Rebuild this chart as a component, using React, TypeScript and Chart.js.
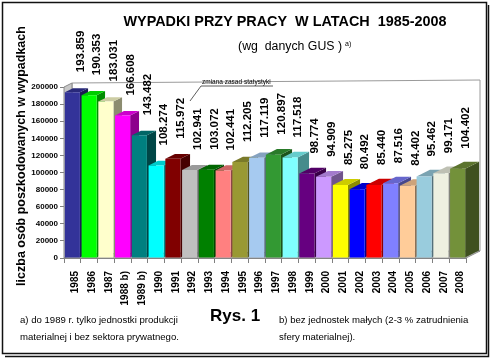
import React, { useEffect, useRef } from "react";
import { Chart, registerables } from "chart.js";

Chart.register(...registerables);

const years = ["1985", "1986", "1987", "1988 b)", "1989 b)", "1990", "1991", "1992", "1993", "1994", "1995", "1996", "1997", "1998", "1999", "2000", "2001", "2002", "2003", "2004", "2005", "2006", "2007", "2008"];
const injured = [193859, 190353, 183031, 166608, 143482, 108274, 115972, 102941, 103072, 102441, 112205, 117119, 120897, 117518, 98774, 94909, 85275, 80492, 85440, 87516, 84402, 95462, 99171, 104402];
const barColors = ["#333399", "#00FF00", "#FFFFCC", "#FF00FF", "#008080", "#00FFFF", "#800000", "#C0C0C0", "#008000", "#FF8080", "#999933", "#A6CAF0", "#339933", "#7FFFFF", "#660080", "#CC99FF", "#FFFF00", "#0000FF", "#FF0000", "#8080FF", "#FFCC99", "#99CCDD", "#EEF0E0", "#73913A"];
const yMin = 0;
const yMax = 200000;
const yStep = 20000;

const titleText = "WYPADKI PRZY PRACY  W LATACH  1985-2008";
const subtitleText = "(wg  danych GUS )";
const subtitleSup = "a)";
const yAxisTitle = "liczba osób poszkodowanych w wypadkach";
const noteA = ["a) do 1989 r. tylko jednostki produkcji", "materialnej i bez sektora prywatnego."];
const noteB = ["b) bez jednostek małych (2-3 % zatrudnienia", "sfery materialnej)."];
const figLabel = "Rys. 1";
const annotationText = "zmiana zasad statystyki";

const FONT = "'Liberation Sans', Arial, Helvetica, sans-serif";

function shade(hex: string, f: number): string {
  const n = parseInt(hex.slice(1), 16);
  const r = Math.round(((n >> 16) & 255) * f);
  const g = Math.round(((n >> 8) & 255) * f);
  const b = Math.round((n & 255) * f);
  return `rgb(${r},${g},${b})`;
}

function fmt(v: number): string {
  const th = Math.floor(v / 1000);
  const rest = String(v % 1000).padStart(3, "0");
  return `${th}.${rest}`;
}

function depth(x: number, a: any) {
  const f = (x - a.left) / (a.right - a.left);
  return { dx: 8 + 6 * f, dy: 4 + 3 * f };
}

function poly(ctx: CanvasRenderingContext2D, pts: number[][], fill: string, stroke?: string) {
  ctx.beginPath();
  ctx.moveTo(pts[0][0], pts[0][1]);
  for (let i = 1; i < pts.length; i++) ctx.lineTo(pts[i][0], pts[i][1]);
  ctx.closePath();
  ctx.fillStyle = fill;
  ctx.fill();
  if (stroke) {
    ctx.strokeStyle = stroke;
    ctx.lineWidth = 1;
    ctx.stroke();
  }
}

const decoPlugin = {
  id: "deco3d",
  beforeDatasetsDraw(chart: any) {
    const { ctx, chartArea: a } = chart;
    const L = depth(a.left, a);
    const R = depth(a.right, a);
    ctx.save();
    poly(ctx, [[a.left + L.dx, a.top - L.dy], [a.right + R.dx, a.top - R.dy], [a.right + R.dx, a.bottom - R.dy], [a.left + L.dx, a.bottom - L.dy]], "#ffffff", "#9a9a9a");
    poly(ctx, [[a.left, a.bottom], [a.left, a.top], [a.left + L.dx, a.top - L.dy], [a.left + L.dx, a.bottom - L.dy]], "#c8c8c8", "#8a8a8a");
    poly(ctx, [[a.left, a.bottom], [a.right, a.bottom], [a.right + R.dx, a.bottom - R.dy], [a.left + L.dx, a.bottom - L.dy]], "#c8c8c8", "#8a8a8a");
    const meta = chart.getDatasetMeta(0);
    meta.data.forEach((bar: any, i: number) => {
      const { x, y, base, width } = bar.getProps(["x", "y", "base", "width"], true);
      const x0 = x - width / 2;
      const x1 = x + width / 2;
      const d = depth(x, a);
      const c = barColors[i];
      poly(ctx, [[x1, base], [x1, y], [x1 + d.dx, y - d.dy], [x1 + d.dx, base - d.dy]], shade(c, 0.55));
      poly(ctx, [[x0, y], [x1, y], [x1 + d.dx, y - d.dy], [x0 + d.dx, y - d.dy]], shade(c, 0.8));
    });
    ctx.restore();
  },
  afterDatasetsDraw(chart: any) {
    const { ctx } = chart;
    const meta = chart.getDatasetMeta(0);
    ctx.save();
    ctx.fillStyle = "#000";
    ctx.font = `bold 11.5px ${FONT}`;
    ctx.textAlign = "left";
    ctx.textBaseline = "middle";
    meta.data.forEach((bar: any, i: number) => {
      const { x, y } = bar.getProps(["x", "y"], true);
      ctx.save();
      ctx.translate(x + 8, y - 20);
      ctx.rotate(-Math.PI / 2);
      ctx.fillText(fmt(injured[i]), 0, 0);
      ctx.restore();
    });
    ctx.restore();
  },
  afterDraw(chart: any) {
    const { ctx } = chart;
    ctx.save();
    ctx.fillStyle = "#000";
    ctx.font = `bold 14.4px ${FONT}`;
    ctx.textAlign = "center";
    ctx.textBaseline = "middle";
    ctx.fillText(titleText, 285, 22);
    ctx.font = `12.3px ${FONT}`;
    ctx.textAlign = "right";
    ctx.fillText(subtitleText, 342, 47);
    ctx.font = `7px ${FONT}`;
    ctx.textAlign = "left";
    ctx.fillText(subtitleSup, 345, 44);
    ctx.save();
    ctx.translate(22, 156);
    ctx.rotate(-Math.PI / 2);
    ctx.textAlign = "center";
    ctx.font = `bold 12.5px ${FONT}`;
    ctx.fillText(yAxisTitle, 0, 0);
    ctx.restore();
    ctx.font = `6.5px ${FONT}`;
    ctx.textAlign = "left";
    ctx.textBaseline = "alphabetic";
    ctx.fillText(annotationText, 202, 84, 71);
    ctx.strokeStyle = "#333";
    ctx.lineWidth = 0.8;
    ctx.beginPath();
    ctx.moveTo(273, 86);
    ctx.lineTo(201, 86);
    ctx.lineTo(190, 101);
    ctx.stroke();
    ctx.font = `9.6px ${FONT}`;
    ctx.textBaseline = "middle";
    ctx.fillText(noteA[0], 20, 320);
    ctx.fillText(noteA[1], 20, 337);
    ctx.fillText(noteB[0], 279, 320);
    ctx.fillText(noteB[1], 279, 337);
    ctx.font = `bold 17px ${FONT}`;
    ctx.fillText(figLabel, 210, 316);
    ctx.strokeStyle = "#111";
    ctx.lineWidth = 1.5;
    ctx.strokeRect(2.5, 2.5, 484, 351);
    ctx.beginPath();
    ctx.moveTo(488.5, 5);
    ctx.lineTo(488.5, 356.5);
    ctx.lineTo(5, 356.5);
    ctx.stroke();
    ctx.restore();
  },
};

export default function App() {
  const canvasRef = useRef<HTMLCanvasElement | null>(null);

  useEffect(() => {
    document.body.style.margin = "0";
    const canvas = canvasRef.current;
    if (!canvas) return;
    const chart = new Chart(canvas, {
      type: "bar",
      data: {
        labels: years,
        datasets: [
          {
            label: "liczba osób poszkodowanych",
            data: injured,
            backgroundColor: barColors,
            borderWidth: 0,
            barPercentage: 0.9,
            categoryPercentage: 1,
          },
        ],
      },
      options: {
        responsive: false,
        animation: false,
        events: [],
        layout: { padding: { left: 30, right: 24, top: 87, bottom: 40 } },
        plugins: {
          legend: { display: false },
          title: { display: false },
          tooltip: { enabled: false },
        },
        scales: {
          x: {
            afterFit: (s: any) => {
              s.height = 61;
            },
            grid: { display: true, drawOnChartArea: false, tickLength: 5, color: "#808080", offset: true },
            border: { color: "#808080" },
            ticks: {
              autoSkip: false,
              minRotation: 90,
              maxRotation: 90,
              labelOffset: 3,
              padding: 8,
              color: "#000",
              font: { family: FONT, size: 10, weight: "bold" },
            },
          },
          y: {
            min: yMin,
            max: yMax,
            afterFit: (s: any) => {
              s.width = 34;
            },
            grid: { display: true, drawOnChartArea: false, tickLength: 4, color: "#808080" },
            border: { color: "#808080" },
            ticks: {
              stepSize: yStep,
              padding: 2,
              color: "#000",
              font: { family: FONT, size: 8, weight: "bold" },
              callback: (v: any) => String(v),
            },
          },
        },
      },
      plugins: [decoPlugin],
    });
    return () => chart.destroy();
  }, []);

  return (
    <div style={{ width: 490, height: 359, background: "#fff" }}>
      <canvas ref={canvasRef} width={490} height={359} style={{ display: "block" }} />
    </div>
  );
}
